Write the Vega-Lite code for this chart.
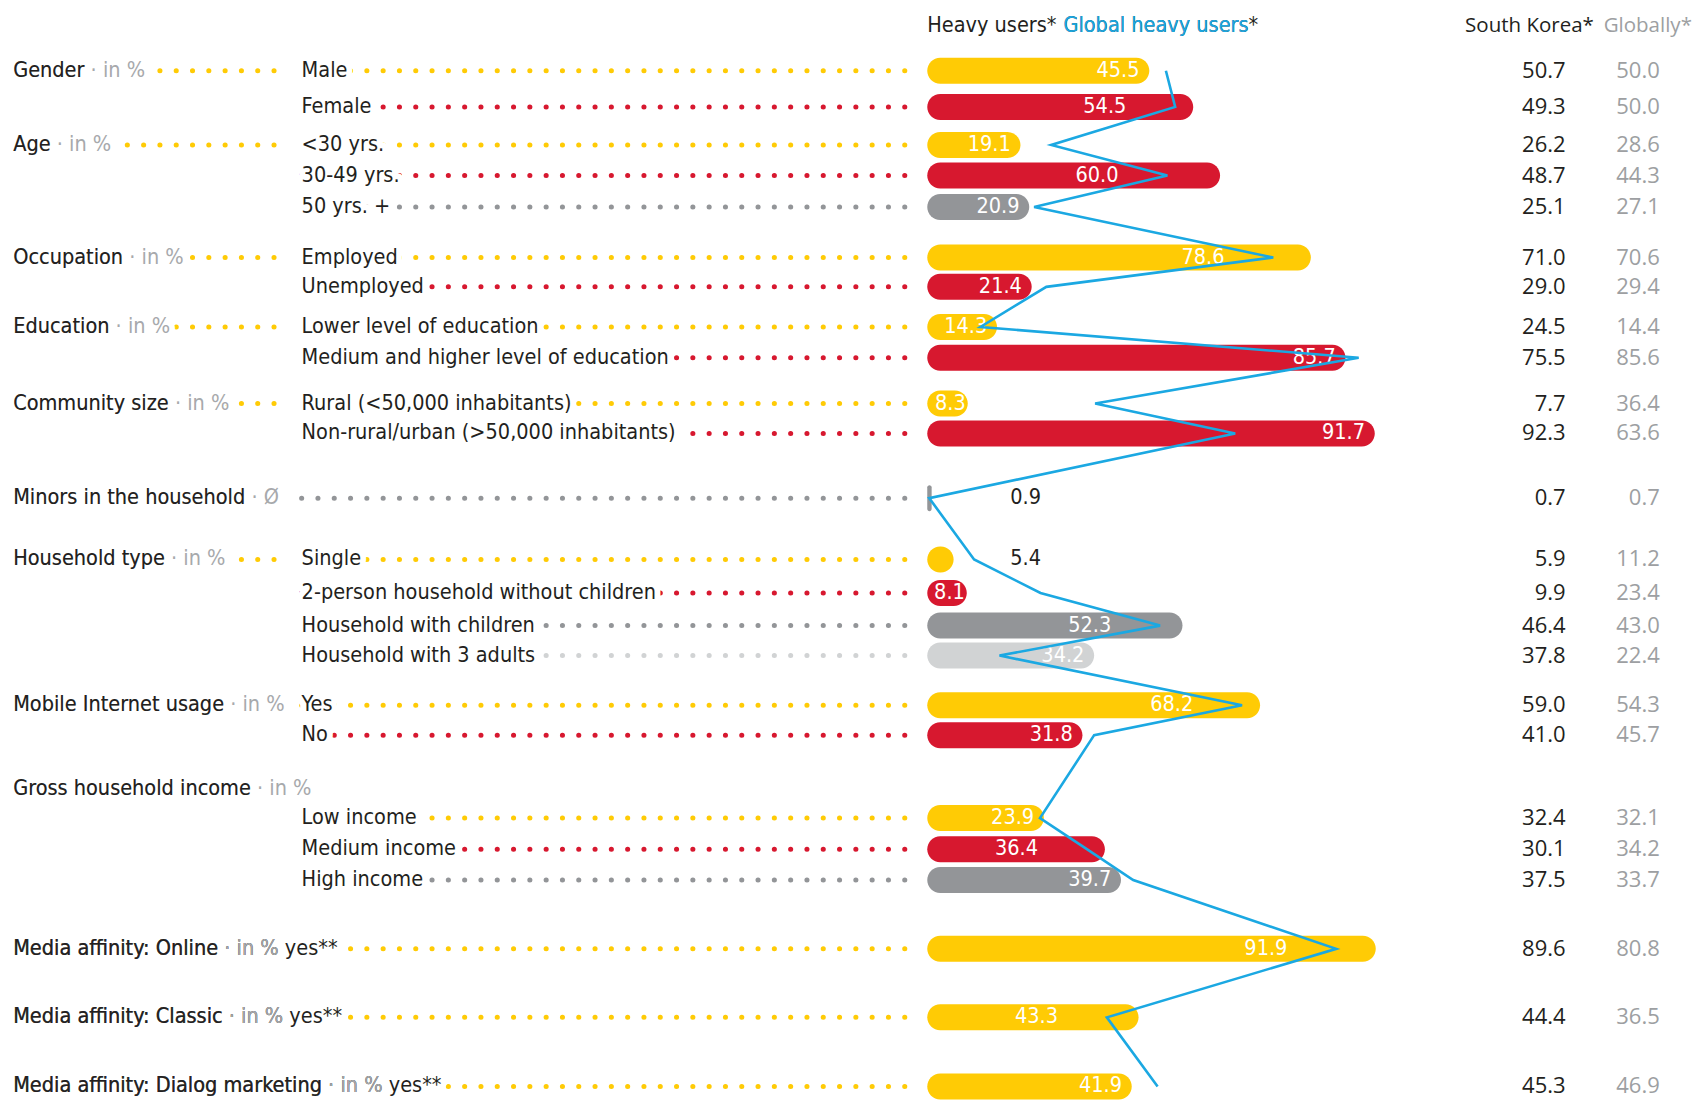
{
  "$schema": "https://vega.github.io/schema/vega-lite/v6.json",
  "width": 1692,
  "height": 1104,
  "padding": 0,
  "autosize": {"type": "none"},
  "background": "white",
  "config": {
    "view": {"stroke": null},
    "text": {"font": "DejaVu Sans Condensed, DejaVu Sans, sans-serif", "baseline": "middle"}
  },
  "data": {
    "values": [
      {"h1": "Heavy users*", "h2": "Global heavy users*", "h2b": "Global heavy users", "h3": "South Korea*", "h4": "Globally*", "line": -1.6},
      {"g": "Gender", "u": "· in %", "s": "Male", "v": 45.5, "r": 1, "gh": 48.9, "sk": 50.7, "gl": 50.0, "line": -0.12},
      {"s": "Female", "v": 54.5, "r": 2, "gh": 50.8, "sk": 49.3, "gl": 50.0, "line": 1.09},
      {"g": "Age", "u": "· in %", "s": "<30 yrs.", "v": 19.1, "r": 1, "gh": 25.4, "sk": 26.2, "gl": 28.6, "line": 2.36},
      {"s": "30-49 yrs.", "v": 60.0, "r": 2, "gh": 49.2, "sk": 48.7, "gl": 44.3, "line": 3.38},
      {"s": "50 yrs. +", "v": 20.9, "r": 3, "gh": 21.9, "sk": 25.1, "gl": 27.1, "line": 4.43},
      {"g": "Occupation", "u": "· in %", "s": "Employed", "v": 78.6, "r": 1, "gh": 70.9, "sk": 71.0, "gl": 70.6, "line": 6.12},
      {"s": "Unemployed", "v": 21.4, "r": 2, "gh": 24.4, "sk": 29.0, "gl": 29.4, "line": 7.1},
      {"g": "Education", "u": "· in %", "s": "Lower level of education", "v": 14.3, "r": 1, "gh": 10.9, "sk": 24.5, "gl": 14.4, "line": 8.44},
      {"s": "Medium and higher level of education", "v": 85.7, "r": 2, "gh": 88.4, "sk": 75.5, "gl": 85.6, "line": 9.47},
      {"g": "Community size", "u": "· in %", "s": "Rural (<50,000 inhabitants)", "v": 8.3, "r": 1, "gh": 34.4, "sk": 7.7, "gl": 36.4, "line": 11.0},
      {"s": "Non-rural/urban (>50,000 inhabitants)", "v": 91.7, "r": 2, "gh": 63.1, "sk": 92.3, "gl": 63.6, "line": 12.0},
      {"g": "Minors in the household", "u": "· Ø", "v": 0.9, "r": 3, "gh": 0.4, "sk": 0.7, "gl": 0.7, "line": 14.16},
      {"g": "Household type", "u": "· in %", "s": "Single", "v": 5.4, "r": 1, "gh": 9.6, "sk": 5.9, "gl": 11.2, "line": 16.21},
      {"s": "2-person household without children", "v": 8.1, "r": 2, "gh": 23.2, "sk": 9.9, "gl": 23.4, "line": 17.33},
      {"s": "Household with children", "v": 52.3, "r": 3, "gh": 47.7, "sk": 46.4, "gl": 43.0, "line": 18.42},
      {"s": "Household with 3 adults", "v": 34.2, "r": 4, "gh": 14.8, "sk": 37.8, "gl": 22.4, "line": 19.42},
      {"g": "Mobile Internet usage", "u": "· in %", "s": "Yes", "v": 68.2, "r": 1, "gh": 64.5, "sk": 59.0, "gl": 54.3, "line": 21.08},
      {"s": "No", "v": 31.8, "r": 2, "gh": 34.2, "sk": 41.0, "gl": 45.7, "line": 22.08},
      {"g": "Gross household income", "u": "· in %", "line": 23.87},
      {"s": "Low income", "v": 23.9, "r": 1, "gh": 23.1, "sk": 32.4, "gl": 32.1, "line": 24.85},
      {"s": "Medium income", "v": 36.4, "r": 2, "gh": 32.7, "sk": 30.1, "gl": 34.2, "line": 25.89},
      {"s": "High income", "v": 39.7, "r": 3, "gh": 42.2, "sk": 37.5, "gl": 33.7, "line": 26.92},
      {"g": "Media affinity: Online", "u": "· in %", "t": "yes**", "v": 91.9, "r": 1, "gh": 83.8, "sk": 89.6, "gl": 80.8, "line": 29.22},
      {"g": "Media affinity: Classic", "u": "· in %", "t": "yes**", "v": 43.3, "r": 1, "gh": 36.8, "sk": 44.4, "gl": 36.5, "line": 31.51},
      {"g": "Media affinity: Dialog marketing", "u": "· in %", "t": "yes**", "v": 41.9, "r": 1, "gh": 47.2, "sk": 45.3, "gl": 46.9, "line": 33.82}
    ]
  },
  "transform": [
    {"calculate": "datum.g ? datum.g + ' ' + datum.u : ''", "as": "gu"},
    {"calculate": "datum.g ? datum.gu + (datum.t ? '  ' + datum.t : '') : ''", "as": "full"},
    {"calculate": "datum.v == null ? null : (datum.v < 10 ? datum.v - 0.4 : ((datum.v > 30 && datum.gh < datum.v + 1 && datum.v - datum.gh < 15) ? min(datum.v, datum.gh) - 10 : datum.v - 2))", "as": "labelEnd"},
    {"calculate": "-187.3", "as": "catX"},
    {"calculate": "-128.2", "as": "subX"},
    {"calculate": "-131.2", "as": "catDotEnd"},
    {"calculate": "-1.9", "as": "dotEnd"},
    {"calculate": "0", "as": "base"},
    {"calculate": "17", "as": "outX"},
    {"calculate": "130.8", "as": "skX"},
    {"calculate": "150.1", "as": "glX"},
    {"calculate": "27.9", "as": "h2X"},
    {"calculate": "110.2", "as": "h3X"},
    {"calculate": "138.6", "as": "h4X"}
  ],
  "encoding": {
    "y": {"field": "line", "type": "quantitative", "axis": null, "scale": {"domain": [-2.318, 34.238], "reverse": true, "nice": false, "zero": false}}
  },
  "layer": [
    {
      "transform": [{"filter": "datum.g && datum.s"}],
      "mark": {"type": "rule", "color": "#FFCB05", "strokeWidth": 5, "strokeCap": "round", "strokeDash": [0.1, 16.2]},
      "encoding": {
        "x": {"field": "catX", "type": "quantitative", "axis": null, "scale": {"domain": [-190, 156.7], "nice": false, "zero": false}},
        "x2": {"field": "catDotEnd"}
      }
    },
    {
      "transform": [{"filter": "datum.v != null"}],
      "mark": {"type": "rule", "strokeWidth": 5, "strokeCap": "round", "strokeDash": [0.1, 16.2]},
      "encoding": {
        "x": {"field": "subX", "type": "quantitative"},
        "x2": {"field": "dotEnd"},
        "color": {"field": "r", "type": "nominal", "scale": {"domain": [1, 2, 3, 4], "range": ["#FFCB05", "#D7182F", "#939598", "#D1D3D4"]}, "legend": null}
      }
    },
    {
      "transform": [{"filter": "datum.g"}],
      "mark": {"type": "text", "align": "left", "fontSize": 21.5, "fill": "white", "stroke": "white", "strokeWidth": 12, "strokeJoin": "round"},
      "encoding": {"x": {"field": "catX", "type": "quantitative"}, "text": {"field": "full"}}
    },
    {
      "transform": [{"filter": "datum.s"}],
      "mark": {"type": "text", "align": "left", "fontSize": 21.5, "fill": "white", "stroke": "white", "strokeWidth": 12, "strokeJoin": "round"},
      "encoding": {"x": {"field": "subX", "type": "quantitative"}, "text": {"field": "s"}}
    },
    {
      "transform": [{"filter": "datum.t"}],
      "mark": {"type": "text", "align": "left", "fontSize": 21.5, "color": "#231F20"},
      "encoding": {"x": {"field": "catX", "type": "quantitative"}, "text": {"field": "full"}}
    },
    {
      "transform": [{"filter": "datum.g"}],
      "mark": {"type": "text", "align": "left", "fontSize": 21.5, "color": "#A7A9AC"},
      "encoding": {"x": {"field": "catX", "type": "quantitative"}, "text": {"field": "gu"}}
    },
    {
      "transform": [{"filter": "datum.g"}],
      "mark": {"type": "text", "align": "left", "fontSize": 21.5, "color": "#231F20"},
      "encoding": {"x": {"field": "catX", "type": "quantitative"}, "text": {"field": "g"}}
    },
    {
      "transform": [{"filter": "datum.s"}],
      "mark": {"type": "text", "align": "left", "fontSize": 21.5, "color": "#231F20"},
      "encoding": {"x": {"field": "subX", "type": "quantitative"}, "text": {"field": "s"}}
    },
    {
      "transform": [{"filter": "datum.v != null"}],
      "mark": {"type": "bar", "height": 26, "cornerRadius": 13},
      "encoding": {
        "x": {"field": "v", "type": "quantitative"},
        "x2": {"field": "base"},
        "color": {"field": "r", "type": "nominal", "legend": null}
      }
    },
    {
      "transform": [{"filter": "datum.v != null && datum.v >= 7"}],
      "mark": {"type": "text", "align": "right", "fontSize": 21.5, "color": "white"},
      "encoding": {"x": {"field": "labelEnd", "type": "quantitative"}, "text": {"field": "v", "type": "quantitative", "format": ".1f"}}
    },
    {
      "transform": [{"filter": "datum.v != null && datum.v < 7"}],
      "mark": {"type": "text", "align": "left", "fontSize": 21.5, "color": "#231F20"},
      "encoding": {"x": {"field": "outX", "type": "quantitative"}, "text": {"field": "v", "type": "quantitative", "format": ".1f"}}
    },
    {
      "transform": [{"filter": "datum.gh != null"}],
      "mark": {"type": "line", "color": "#1BA8E2", "strokeWidth": 2.6},
      "encoding": {"x": {"field": "gh", "type": "quantitative"}, "order": {"field": "line", "type": "quantitative"}}
    },
    {
      "transform": [{"filter": "datum.sk != null"}],
      "mark": {"type": "text", "align": "right", "fontSize": 22, "font": "Open Sans", "color": "#231F20"},
      "encoding": {"x": {"field": "skX", "type": "quantitative"}, "text": {"field": "sk", "type": "quantitative", "format": ".1f"}}
    },
    {
      "transform": [{"filter": "datum.gl != null"}],
      "mark": {"type": "text", "align": "right", "fontSize": 22, "font": "Open Sans", "color": "#9D9FA2"},
      "encoding": {"x": {"field": "glX", "type": "quantitative"}, "text": {"field": "gl", "type": "quantitative", "format": ".1f"}}
    },
    {
      "transform": [{"filter": "datum.h1"}],
      "mark": {"type": "text", "align": "left", "fontSize": 21.5, "color": "#231F20"},
      "encoding": {"x": {"field": "base", "type": "quantitative"}, "text": {"field": "h1"}}
    },
    {
      "transform": [{"filter": "datum.h1"}],
      "mark": {"type": "text", "align": "left", "fontSize": 21.5, "color": "#231F20"},
      "encoding": {"x": {"field": "h2X", "type": "quantitative"}, "text": {"field": "h2"}}
    },
    {
      "transform": [{"filter": "datum.h1"}],
      "mark": {"type": "text", "align": "left", "fontSize": 21.5, "color": "#1BA8E2"},
      "encoding": {"x": {"field": "h2X", "type": "quantitative"}, "text": {"field": "h2b"}}
    },
    {
      "transform": [{"filter": "datum.h1"}],
      "mark": {"type": "text", "align": "left", "fontSize": 20.5, "font": "Open Sans", "color": "#231F20"},
      "encoding": {"x": {"field": "h3X", "type": "quantitative"}, "text": {"field": "h3"}}
    },
    {
      "transform": [{"filter": "datum.h1"}],
      "mark": {"type": "text", "align": "left", "fontSize": 20.5, "font": "Open Sans", "color": "#9D9FA2"},
      "encoding": {"x": {"field": "h4X", "type": "quantitative"}, "text": {"field": "h4"}}
    }
  ]
}
